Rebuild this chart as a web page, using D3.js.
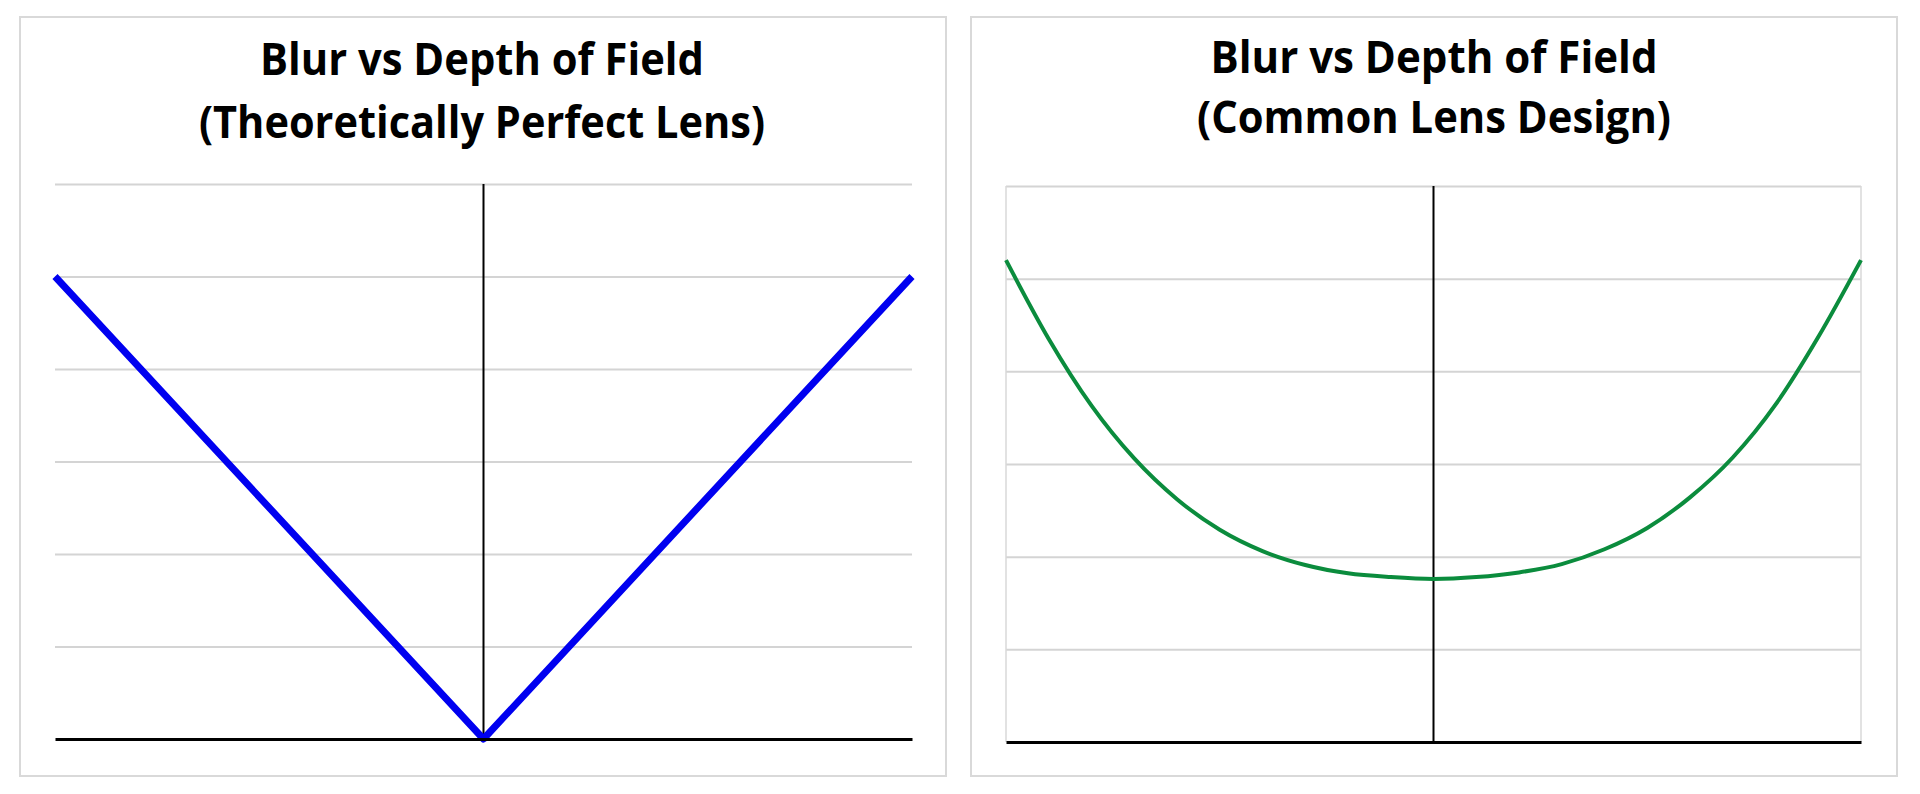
<!DOCTYPE html>
<html>
<head>
<meta charset="utf-8">
<script src="https://cdn.jsdelivr.net/npm/d3@7"></script>
<style>
  html, body { margin: 0; padding: 0; background: #fff; }
  svg { display: block; }
</style>
</head>
<body>
<svg id="chart" width="1920" height="794"></svg>
<script>
// depth offset from the focus plane (arbitrary units, same for both charts)
const depth = [-10, -9, -8, -7, -6, -5, -4, -3, -2, -1, 0, 1, 2, 3, 4, 5, 6, 7, 8, 9, 10];

// perfect lens: blur grows linearly away from focus
const perfectDepth = [-10, 0, 10];
const perfectBlur = [5, 0, 5];

// common lens: never quite reaches zero blur
const commonBlur = [5.2, 4.35, 3.63, 3.06, 2.62, 2.29, 2.06, 1.91, 1.82, 1.78, 1.76,
                    1.78, 1.83, 1.92, 2.08, 2.31, 2.64, 3.07, 3.64, 4.37, 5.2];

const yTicks = [0, 1, 2, 3, 4, 5, 6];

const titles = [
  ["Blur vs Depth of Field", "(Theoretically Perfect Lens)"],
  ["Blur vs Depth of Field", "(Common Lens Design)"]
];

const svg = d3.select("#chart");

// one panel per lens type
const panels = [
  { box: [20, 17, 926, 759], plot: [55, 184, 857, 555], title: [482, 75, 138], widths: [444, 566],
    xs: perfectDepth, ys: perfectBlur, color: "#0000f0", lw: 7, frame: false, curve: d3.curveLinear },
  { box: [971, 17, 926, 759], plot: [1006, 186, 855, 556], title: [1434, 73, 133], widths: [447, 474],
    xs: depth, ys: commonBlur, color: "#0b8c3d", lw: 4, frame: true, curve: d3.curveMonotoneX }
];

panels.forEach(function (p, i) {
  // outer chart border
  svg.append("rect")
    .attr("x", p.box[0]).attr("y", p.box[1])
    .attr("width", p.box[2]).attr("height", p.box[3])
    .attr("fill", "#fff")
    .attr("stroke", "#d9d9d9")
    .attr("stroke-width", 2);

  // title, two lines
  titles[i].forEach(function (t, k) {
    svg.append("text")
      .attr("x", p.title[0])
      .attr("y", p.title[k + 1])
      .attr("text-anchor", "middle")
      .attr("textLength", p.widths[k])
      .attr("lengthAdjust", "spacingAndGlyphs")
      .style("font-family", "'Open Sans', 'Noto Sans', sans-serif")
      .style("font-weight", 700)
      .style("font-size", "44px")
      .style("fill", "#000")
      .text(t);
  });

  const w = p.plot[2], h = p.plot[3];
  const g = svg.append("g").attr("transform", "translate(" + p.plot[0] + "," + p.plot[1] + ")");

  const x = d3.scaleLinear().domain([-10, 10]).range([0, w]);
  const y = d3.scaleLinear().domain([0, 6]).range([h, 0]);

  // horizontal gridlines
  g.append("g")
    .call(d3.axisLeft(y).tickValues(yTicks.slice(1)).tickSize(-w).tickFormat(""))
    .call(function (a) { a.select(".domain").remove(); })
    .selectAll("line")
    .attr("stroke", "#d4d4d4")
    .attr("stroke-width", 2);

  // plot area side borders (right chart only)
  if (p.frame) {
    [0, w].forEach(function (xx) {
      g.append("line")
        .attr("x1", xx).attr("x2", xx)
        .attr("y1", 0).attr("y2", h)
        .attr("stroke", "#d9d9d9")
        .attr("stroke-width", 1.5);
    });
  }

  // vertical axis at the focus point
  g.append("line")
    .attr("x1", x(0)).attr("x2", x(0))
    .attr("y1", y(6)).attr("y2", y(0))
    .attr("stroke", "#000")
    .attr("stroke-width", 2);

  // the curve
  const line = d3.line()
    .x(function (d) { return x(d[0]); })
    .y(function (d) { return y(d[1]); })
    .curve(p.curve);

  g.append("path")
    .datum(p.xs.map(function (v, j) { return [v, p.ys[j]]; }))
    .attr("d", line)
    .attr("fill", "none")
    .attr("stroke", p.color)
    .attr("stroke-width", p.lw)
    .attr("stroke-linejoin", "round");

  // horizontal axis
  g.append("g")
    .attr("transform", "translate(0," + y(0) + ")")
    .call(d3.axisBottom(x).tickValues([]).tickSizeOuter(0))
    .select(".domain")
    .attr("stroke", "#000")
    .attr("stroke-width", 3);
});
</script>
</body>
</html>
